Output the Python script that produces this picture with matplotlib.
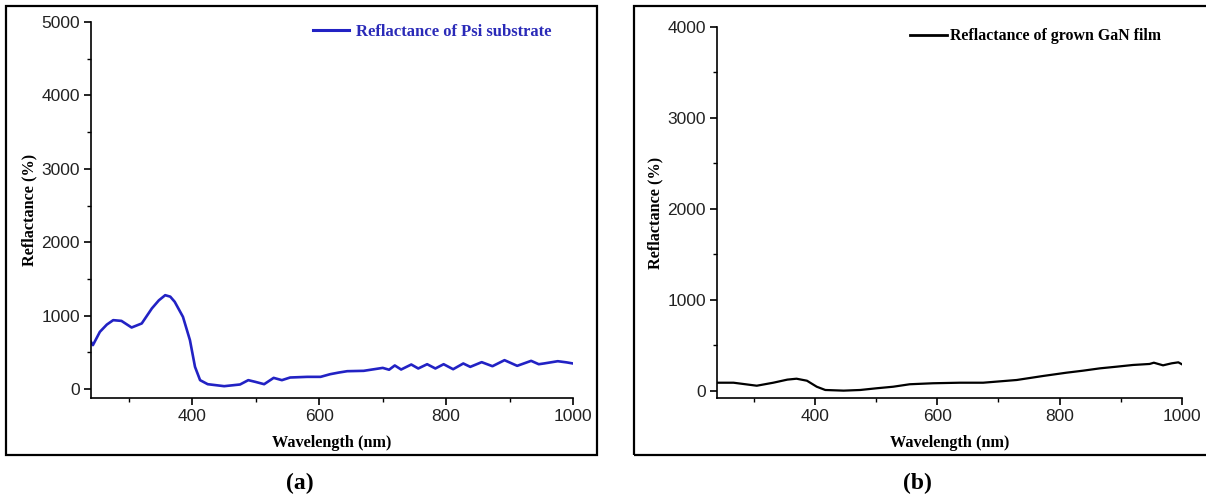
import matplotlib
matplotlib.use("Agg")
import matplotlib.pyplot as plt
from matplotlib.patches import Rectangle
from matplotlib.ticker import MultipleLocator

# ---------------- data ----------------
wl_psi = [240, 243, 254, 265, 275, 288, 304, 320, 336, 347, 357, 365, 372, 385, 396,
          404, 412, 424, 450, 475, 488, 499, 513, 528, 541, 554, 581, 602, 617, 631,
          644, 670, 685, 700, 710, 719, 729, 745, 756, 770, 783, 796, 811, 827, 838,
          856, 873, 892, 912, 934, 946, 954, 976, 990, 1000]
r_psi = [644, 600, 781, 880, 940, 930, 840, 895, 1100, 1210, 1280, 1260, 1190, 985, 668,
         304, 123, 68, 41, 64, 123, 100, 68, 154, 123, 159, 168, 168, 204, 227,
         245, 250, 270, 290, 265, 323, 268, 336, 282, 340, 282, 340, 272, 350, 304,
         368, 313, 395, 318, 386, 340, 350, 381, 365, 350]

wl_gan = [240, 267, 305, 332, 355, 370, 387, 403, 417, 447, 474, 501, 528, 555, 593,
          637, 675, 730, 773, 811, 838, 866, 893, 920, 947, 954, 969, 983, 994, 1000]
r_gan = [91, 91, 58, 91, 125, 135, 113, 47, 11, 4, 11, 30, 47, 74, 85,
         91, 91, 121, 165, 201, 223, 249, 267, 286, 297, 311, 282, 304, 315, 293]

label_psi = "Reflactance of Psi substrate"
label_gan = "Reflactance of grown GaN film"
xlabel = "Wavelength (nm)"
ylabel = "Reflactance (%)"
panel_tags = ["(a)", "(b)"]

# ---------------- figure ----------------
W, H = 1206, 499
fig = plt.figure(figsize=(W / 100, H / 100), dpi=100)

serif_bold = dict(family="Liberation Serif", weight="bold")


def fx(px):
    return px / W


def fy(py):
    return 1 - py / H


def style_axes(ax, ylim, ymajor):
    ax.set_xlim(240, 1000)
    ax.set_ylim(*ylim)
    for s in ("top", "right"):
        ax.spines[s].set_visible(False)
    for s in ("left", "bottom"):
        ax.spines[s].set_linewidth(1.2)
        ax.spines[s].set_color("black")
    ax.xaxis.set_major_locator(MultipleLocator(200))
    ax.xaxis.set_minor_locator(MultipleLocator(100))
    ax.yaxis.set_major_locator(MultipleLocator(ymajor))
    ax.yaxis.set_minor_locator(MultipleLocator(ymajor / 2))
    ax.tick_params(which="major", direction="out", length=5, width=1.2,
                   labelsize=12.5, pad=3)
    ax.tick_params(which="minor", direction="out", length=3, width=1.0)
    for lab in ax.get_xticklabels() + ax.get_yticklabels():
        lab.set_family("Liberation Sans")
        lab.set_color("#222222")
    ax.set_xlabel(xlabel, fontsize=11.7, labelpad=8, **serif_bold)
    ax.set_ylabel(ylabel, fontsize=11.7, labelpad=2.5, **serif_bold)


# panel (a)
ax1 = fig.add_axes([fx(91), fy(398), fx(573 - 91), (398 - 22) / H])
ax1.plot(wl_psi, r_psi, color="#2222c4", lw=1.9, label=label_psi)
style_axes(ax1, (-120, 5000), 1000)
leg1 = ax1.legend(loc="upper left", bbox_to_anchor=(fx(298 - 91) / fx(573 - 91), 1.035),
                  frameon=False, handlelength=2.15, handletextpad=0.4,
                  prop=dict(family="Liberation Serif", weight="bold", size=12))
for t in leg1.get_texts():
    t.set_color("#2a2ab8")
for h in leg1.get_lines():
    h.set_linewidth(2.2)

# panel (b)
ax2 = fig.add_axes([fx(717), fy(398), fx(1182 - 717), (398 - 27) / H])
ax2.plot(wl_gan, r_gan, color="black", lw=1.6, label=label_gan)
style_axes(ax2, (-77, 4000), 1000)
leg2 = ax2.legend(loc="upper left", bbox_to_anchor=(fx(896 - 717) / fx(1182 - 717), 1.035),
                  frameon=False, handlelength=2.35, handletextpad=0.15,
                  prop=dict(family="Liberation Serif", weight="bold", size=11.4))
for h in leg2.get_lines():
    h.set_linewidth(2.0)

# outer frames
fig.add_artist(Rectangle((fx(6), fy(455)), fx(597 - 6), (455 - 6) / H,
                         transform=fig.transFigure, fill=False, lw=1.6, ec="black"))
fig.add_artist(Rectangle((fx(634), fy(455)), fx(1215 - 634), (455 - 6) / H,
                         transform=fig.transFigure, fill=False, lw=1.6, ec="black"))

# panel tags
fig.text(fx(300), fy(483), panel_tags[0], ha="center", va="center", fontsize=17, **serif_bold)
fig.text(fx(917), fy(483), panel_tags[1], ha="center", va="center", fontsize=17, **serif_bold)

fig.savefig("out.png", dpi=100)
